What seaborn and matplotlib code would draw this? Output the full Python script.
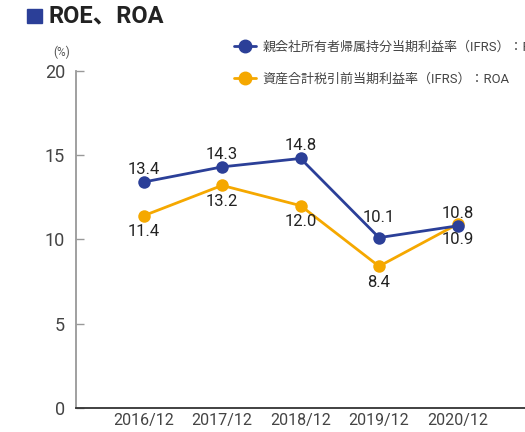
#!/usr/bin/env python3

'''ROE / ROA line chart'''

import pandas as pd
import matplotlib.pyplot as plt
from matplotlib.patches import Rectangle
import seaborn as sns

# data
years = ['2016/12', '2017/12', '2018/12', '2019/12', '2020/12']
roe = [13.4, 14.3, 14.8, 10.1, 10.8]
roa = [11.4, 13.2, 12.0, 8.4, 10.9]
roe_name = '親会社所有者帰属持分当期利益率（IFRS）：ROE'
roa_name = '資産合計税引前当期利益率（IFRS）：ROA'
y_ticks = [0, 5, 10, 15, 20]

blue = '#2b3f98'
orange = '#f5a800'

sns.set_theme(style='white')
plt.rcParams['font.family'] = ['Roboto', 'Noto Sans CJK JP', 'DejaVu Sans']

df = pd.DataFrame({'year': years * 2,
                   'value': roa + roe,
                   'series': [roa_name] * len(years) + [roe_name] * len(years)})

fig = plt.figure(figsize=(5.25, 4.32), dpi=100)
ax = fig.add_axes([0.145, 0.056, 0.855, 0.78])

# ROA first so the ROE line sits on top
sns.lineplot(data=df, x='year', y='value', hue='series', hue_order=[roa_name, roe_name],
             palette=[orange, blue], marker='o', markersize=9, markeredgewidth=0,
             linewidth=2, ax=ax, legend=False)

# value labels: ROE above, ROA below (19/12 ROE label sits a bit higher)
roe_dy = [6, 6, 6, 11, 6]
for i, v in enumerate(roe):
    ax.annotate(f'{v:.1f}', (i, v), xytext=(0, roe_dy[i]), textcoords='offset points',
                ha='center', va='baseline', fontsize=12, color='#222222')
for i, v in enumerate(roa):
    ax.annotate(f'{v:.1f}', (i, v), xytext=(0, -6), textcoords='offset points',
                ha='center', va='top', fontsize=12, color='#222222')

ax.set_xlim(-0.86, 4.86)
ax.set_ylim(0, 20)
ax.set_yticks(y_ticks)
ax.set_xlabel('')
ax.set_ylabel('')
sns.despine(ax=ax)
ax.spines['left'].set_color('#999999')
ax.spines['left'].set_linewidth(1.3)
ax.spines['bottom'].set_color('#333333')
ax.spines['bottom'].set_linewidth(1.3)
ax.tick_params(axis='y', direction='in', length=6, width=1, color='#999999',
               labelsize=13, labelcolor='#444444', pad=8, left=True)
ax.tick_params(axis='x', length=0, labelsize=11.5, labelcolor='#444444', pad=4)

# title and unit
fig.patches.append(Rectangle((27 / 525, 1 - 23 / 432), 15 / 525, 14 / 432,
                             transform=fig.transFigure, color=blue))
fig.text(0.093, 0.963, 'ROE、ROA', fontsize=17, fontweight='bold', color='#222222',
         va='center', ha='left')
fig.text(0.118, 0.878, '(%)', fontsize=8.5, color='#555555', ha='center', va='center')

# legend
handles = [plt.Line2D([], [], color=blue, marker='o', markersize=9, linewidth=2),
           plt.Line2D([], [], color=orange, marker='o', markersize=9, linewidth=2)]
fig.legend(handles, [roe_name, roa_name], loc='upper left', bbox_to_anchor=(0.436, 0.918),
           frameon=False, fontsize=9.4, handlelength=1.7, handletextpad=0.45,
           labelspacing=1.45, labelcolor='#444444', borderaxespad=0)

plt.savefig('out.png', dpi=100)
